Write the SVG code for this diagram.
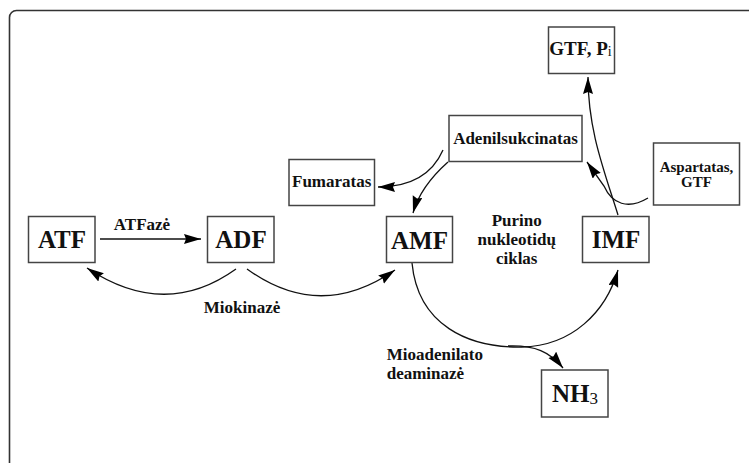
<svg xmlns="http://www.w3.org/2000/svg" width="749" height="463" viewBox="0 0 749 463" font-family="'Liberation Serif', 'DejaVu Serif', serif">
<style>
.box{fill:#fff;stroke:#444;stroke-width:1.5}
text{font-family:'Liberation Serif','DejaVu Serif',serif;font-weight:bold;fill:#111}
.big{font-size:25px;text-anchor:middle}
.lbl{font-size:17px;text-anchor:middle}
.st{font-size:17px;text-anchor:start}
.sm{font-size:15px;text-anchor:middle}
.c{fill:none;stroke:#111;stroke-width:1.3;marker-end:url(#ah)}
</style>
<defs>
<marker id="ah" markerUnits="userSpaceOnUse" markerWidth="18" markerHeight="12" refX="17" refY="5" orient="auto">
<path d="M0,0 L17,5 L0,10 L2,5 z" fill="#000"/>
</marker>
</defs>
<rect x="9.5" y="10.5" width="760" height="470" rx="7" fill="#fff" stroke="#333" stroke-width="1.6"/>
<g id="connectors">
<path class="c" d="M100,239 L201,239"/>
<path class="c" d="M236,269 Q165,320 87,268"/>
<path class="c" d="M247,269 Q320,322 395,270"/>
<path class="c" d="M412,263 C418,325 468,348 522,347 C572,346 606,312 618,270"/>
<path class="c" d="M508,346 C535,345 550,352 563,368"/>
<path class="c" d="M443,150 C432,175 410,187 378,187"/>
<path class="c" d="M448,162 C430,178 418,195 413,213"/>
<path class="c" d="M618,215 C604,170 588,130 588,77"/>
<path class="c" d="M648,198 C628,210 612,204 604,186 L587,162"/>
</g>
<g id="ATF"><rect class="box" x="28.5" y="216.5" width="66.5" height="46"/><text class="big" x="62" y="248">ATF</text></g>
<g id="ADF"><rect class="box" x="207.5" y="216.5" width="66.5" height="46"/><text class="big" x="241" y="248">ADF</text></g>
<g id="AMF"><rect class="box" x="386.5" y="216.5" width="66" height="46"/><text class="big" x="419.5" y="249">AMF</text></g>
<g id="IMF"><rect class="box" x="582.5" y="216.5" width="66.5" height="46"/><text class="big" x="616" y="248">IMF</text></g>
<g id="NH3"><rect class="box" x="541.5" y="370" width="66.5" height="47"/><text class="big" x="575" y="402">NH<tspan style="font-size:17px;font-weight:normal" dy="2">3</tspan></text></g>
<g id="Fumaratas"><rect class="box" x="289" y="159.5" width="85.5" height="46"/><text class="lbl" x="331.7" y="187">Fumaratas</text></g>
<g id="Adenilsukcinatas"><rect class="box" x="449" y="115.5" width="133" height="46"/><text class="lbl" x="515.5" y="144">Adenilsukcinatas</text></g>
<g id="GTFPi"><rect class="box" x="548.5" y="27" width="66" height="46.5"/><text class="lbl" x="580.5" y="54.5" style="font-size:19px">GTF, P<tspan style="font-size:14px;font-weight:normal" dy="1">i</tspan></text></g>
<g id="Aspartatas"><rect class="box" x="653.5" y="143" width="86" height="62"/><text class="sm" x="696.5" y="171.5">Aspartatas,</text><text class="sm" x="696.5" y="187">GTF</text></g>
<g id="labels">
<text class="lbl" x="142" y="230">ATFazė</text>
<text class="lbl" x="242" y="313">Miokinazė</text>
<text class="lbl" x="516.7" y="225.5">Purino</text>
<text class="lbl" x="516.7" y="245">nukleotidų</text>
<text class="lbl" x="516.7" y="263.5">ciklas</text>
<text class="st" x="386.7" y="360">Mioadenilato</text>
<text class="st" x="386.7" y="379">deaminazė</text>
</g>
</svg>
